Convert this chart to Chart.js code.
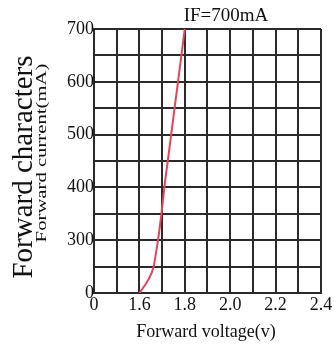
<!DOCTYPE html>
<html><head><meta charset="utf-8">
<script src="https://cdn.jsdelivr.net/npm/chart.js@4/dist/chart.umd.min.js"></script>
<style>html,body{margin:0;padding:0;background:#fff;}#wrap{width:334px;height:351px;}</style>
</head><body><div id="wrap"><canvas id="c" width="334" height="351"></canvas></div>
<script>
// ---- data ----
const voltage = [1.600, 1.638, 1.663, 1.673, 1.682, 1.697, 1.710, 1.725, 1.740, 1.755, 1.770, 1.785, 1.800];
const current = [0, 73, 150, 227, 300, 350, 400, 450, 500, 550, 600, 650, 700];
const xTickValues = [0, 1.6, 1.8, 2.0, 2.2, 2.4];
const xTickText = ['0', '1.6', '1.8', '2.0', '2.2', '2.4'];
const yTickValues = [0, 300, 400, 500, 600, 700];
const yTickText = ['0', '300', '400', '500', '600', '700'];
// broken axes: values at the break points and their share of the axis length
const xBreaks = [0, 1.6, 2.4];
const xShares = [0, 0.2, 1];
const yBreaks = [0, 300, 700];
const yShares = [0, 0.2, 1];
const chartTitle = 'IF=700mA';
const yTitleMain = 'Forward characters';
const yTitleSub = 'Forward current(mA)';
const xTitle = 'Forward voltage(v)';

const breakMap = { x: [xBreaks, xShares], y: [yBreaks, yShares] };

class BrokenScale extends Chart.LinearScale {
  _toShare(v) {
    const [b, s] = breakMap[this.id];
    for (let i = 1; i < b.length; i++) {
      if (v <= b[i] || i === b.length - 1) {
        return s[i - 1] + (v - b[i - 1]) / (b[i] - b[i - 1]) * (s[i] - s[i - 1]);
      }
    }
  }
  _fromShare(f) {
    const [b, s] = breakMap[this.id];
    for (let i = 1; i < s.length; i++) {
      if (f <= s[i] || i === s.length - 1) {
        return b[i - 1] + (f - s[i - 1]) / (s[i] - s[i - 1]) * (b[i] - b[i - 1]);
      }
    }
  }
  buildTicks() {
    const n = 10, t = [];
    for (let i = 0; i <= n; i++) t.push({ value: this._fromShare(i / n) });
    this.start = this.min; this.end = this.max;
    return t;
  }
  getPixelForValue(v) {
    return (v === null || v === undefined) ? NaN : this.getPixelForDecimal(this._toShare(v));
  }
  getValueForPixel(p) { return this._fromShare(this.getDecimalForPixel(p)); }
}
BrokenScale.id = 'broken';
BrokenScale.defaults = Chart.LinearScale.defaults;
Chart.register(BrokenScale);

function labelFor(values, texts) {
  return (v) => {
    const i = values.findIndex(t => Math.abs(t - v) < 1e-6);
    return i >= 0 ? texts[i] : '';
  };
}

const serif = 'Liberation Serif';
const textColor = '#111111';
const gridColor = '#2a2a2a';

const titlesPlugin = {
  id: 'titles',
  afterDraw(chart) {
    const ctx = chart.ctx;
    ctx.save();
    ctx.fillStyle = textColor;
    ctx.textAlign = 'center';
    ctx.textBaseline = 'middle';
    ctx.font = '19px "' + serif + '"';
    ctx.fillText(chartTitle, 226, 16);
    ctx.font = '18px "' + serif + '"';
    ctx.fillText(xTitle, 206, 332);
    ctx.textBaseline = 'alphabetic';
    ctx.save();
    ctx.translate(32, 167);
    ctx.rotate(-Math.PI / 2);
    ctx.font = '29px "' + serif + '"';
    ctx.fillText(yTitleMain, 0, 0);
    ctx.restore();
    ctx.save();
    ctx.translate(46, 153);
    ctx.rotate(-Math.PI / 2);
    ctx.scale(1.38, 1);
    ctx.font = '15px "' + serif + '"';
    ctx.fillText(yTitleSub, 0, 0);
    ctx.restore();
    ctx.restore();
  }
};

new Chart(document.getElementById('c'), {
  type: 'line',
  data: {
    datasets: [{
      data: voltage.map((v, i) => ({ x: v, y: current[i] })),
      borderColor: '#e8435a',
      borderWidth: 2,
      pointRadius: 0,
      cubicInterpolationMode: 'monotone',
      fill: false
    }]
  },
  options: {
    responsive: false,
    animation: false,
    devicePixelRatio: 1,
    layout: { padding: { top: 29, right: 13, left: 0, bottom: 0 } },
    plugins: { legend: { display: false }, tooltip: { enabled: false }, title: { display: false } },
    scales: {
      x: {
        type: 'broken', position: 'bottom', min: 0, max: 2.4,
        afterFit: s => { s.height = 58; },
        grid: { color: gridColor, lineWidth: 2, drawTicks: false },
        border: { color: gridColor, width: 2 },
        ticks: { autoSkip: false, maxRotation: 0, padding: 1, color: textColor,
                 font: { family: serif, size: 18 }, callback: labelFor(xTickValues, xTickText) }
      },
      y: {
        type: 'broken', position: 'left', min: 0, max: 700,
        afterFit: s => { s.width = 94; },
        grid: { color: gridColor, lineWidth: 2, drawTicks: false },
        border: { color: gridColor, width: 2 },
        ticks: { autoSkip: false, padding: 0, color: textColor,
                 font: { family: serif, size: 18 }, callback: labelFor(yTickValues, yTickText) }
      }
    }
  },
  plugins: [titlesPlugin]
});
</script></body></html>
